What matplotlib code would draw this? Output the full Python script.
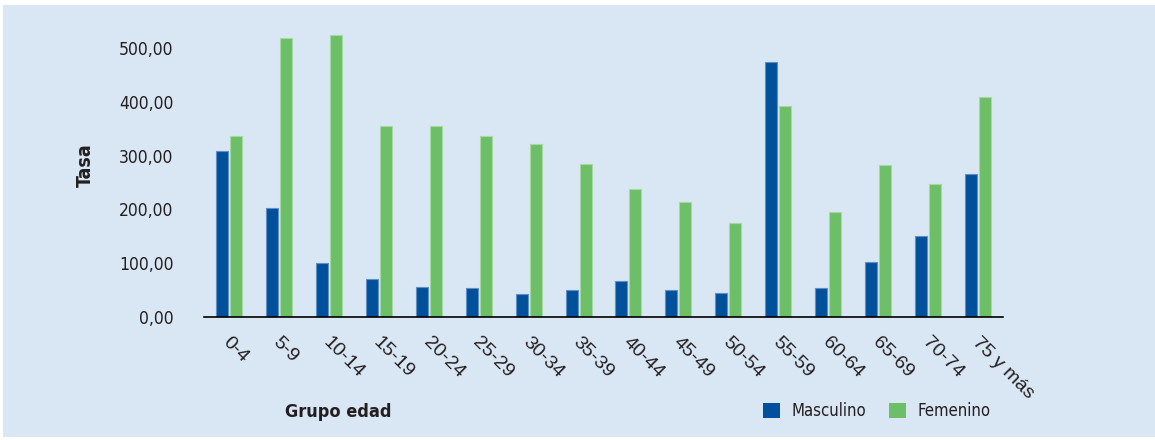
import numpy as np
import matplotlib.pyplot as plt
from matplotlib.patches import Rectangle, Patch

# Tasa por grupo de edad y sexo
grupos = ["0-4", "5-9", "10-14", "15-19", "20-24", "25-29", "30-34", "35-39",
          "40-44", "45-49", "50-54", "55-59", "60-64", "65-69", "70-74", "75 y más"]
masculino = [308, 203, 100, 71, 55, 53, 42, 50, 66, 50, 45, 474, 53, 103, 150, 266]
femenino = [337, 519, 524, 355, 355, 337, 321, 285, 237, 213, 174, 392, 195, 282, 248, 408]

azul = "#00509b"
verde = "#6cbf66"
fondo = "#d9e6f3"
texto = "#231f20"

fig = plt.figure(figsize=(11.55, 4.4), dpi=100)
fig.patch.set_facecolor("white")
fig.add_artist(Rectangle((3 / 1155, 3 / 440), 1 - 3 / 1155, 432 / 440,
                         transform=fig.transFigure, facecolor=fondo,
                         edgecolor="none", zorder=-10))

ax = fig.add_axes([0.1766, 0.2795, 0.6918, 0.6605])
ax.set_zorder(5)
ax.set_facecolor("none")

x = np.arange(len(grupos))
ancho = 0.24
ax.bar(x - 0.14, masculino, ancho, color=azul, edgecolor="#5f8fc4", linewidth=0.8, zorder=2)
ax.bar(x + 0.14, femenino, ancho, color=verde, edgecolor="#a6d9a2", linewidth=0.8, zorder=2)

ax.set_xlim(-0.5, len(grupos) - 0.5)
ax.set_ylim(0, 540)
ax.set_yticks(np.arange(0, 501, 100))
ax.set_yticklabels([f"{v:.2f}".replace(".", ",") for v in np.arange(0, 501, 100)],
                   family="DejaVu Sans", fontstretch="condensed", fontsize=12.5, color=texto)
ax.tick_params(axis="y", length=0, pad=22)

# etiquetas de edad inclinadas hacia abajo
ax.set_xticks(x)
ax.set_xticklabels([])
ax.tick_params(axis="x", length=0)
for xi, g in zip(x, grupos):
    ax.text(xi + 0.06, -32, g, rotation=-45, rotation_mode="anchor", ha="left", va="top",
            fontsize=14, color=texto, family="Liberation Sans")

for s in ["top", "right", "left"]:
    ax.spines[s].set_visible(False)
ax.spines["bottom"].set_color("black")
ax.spines["bottom"].set_linewidth(1.2)

fig.text(85 / 1155, 1 - 165 / 440, "Tasa", rotation=90, ha="center", va="center",
         fontsize=14, fontweight="bold", color=texto, family="DejaVu Sans",
         fontstretch="condensed")
fig.text(338 / 1155, 1 - 412 / 440, "Grupo edad", ha="center", va="center",
         fontsize=13, fontweight="bold", color=texto, family="DejaVu Sans",
         fontstretch="condensed")

handles = [Patch(facecolor=azul), Patch(facecolor=verde)]
fig.legend(handles, ["Masculino", "Femenino"], loc="center left",
           bbox_to_anchor=(748 / 1155, 1 - 411 / 440), ncol=2, frameon=False,
           prop={"family": "DejaVu Sans", "stretch": "condensed", "size": 12},
           handlelength=1.0, handleheight=1.0,
           handletextpad=0.7, columnspacing=1.4, labelcolor=texto)

fig.savefig("out.png", dpi=100, facecolor=fig.get_facecolor())
